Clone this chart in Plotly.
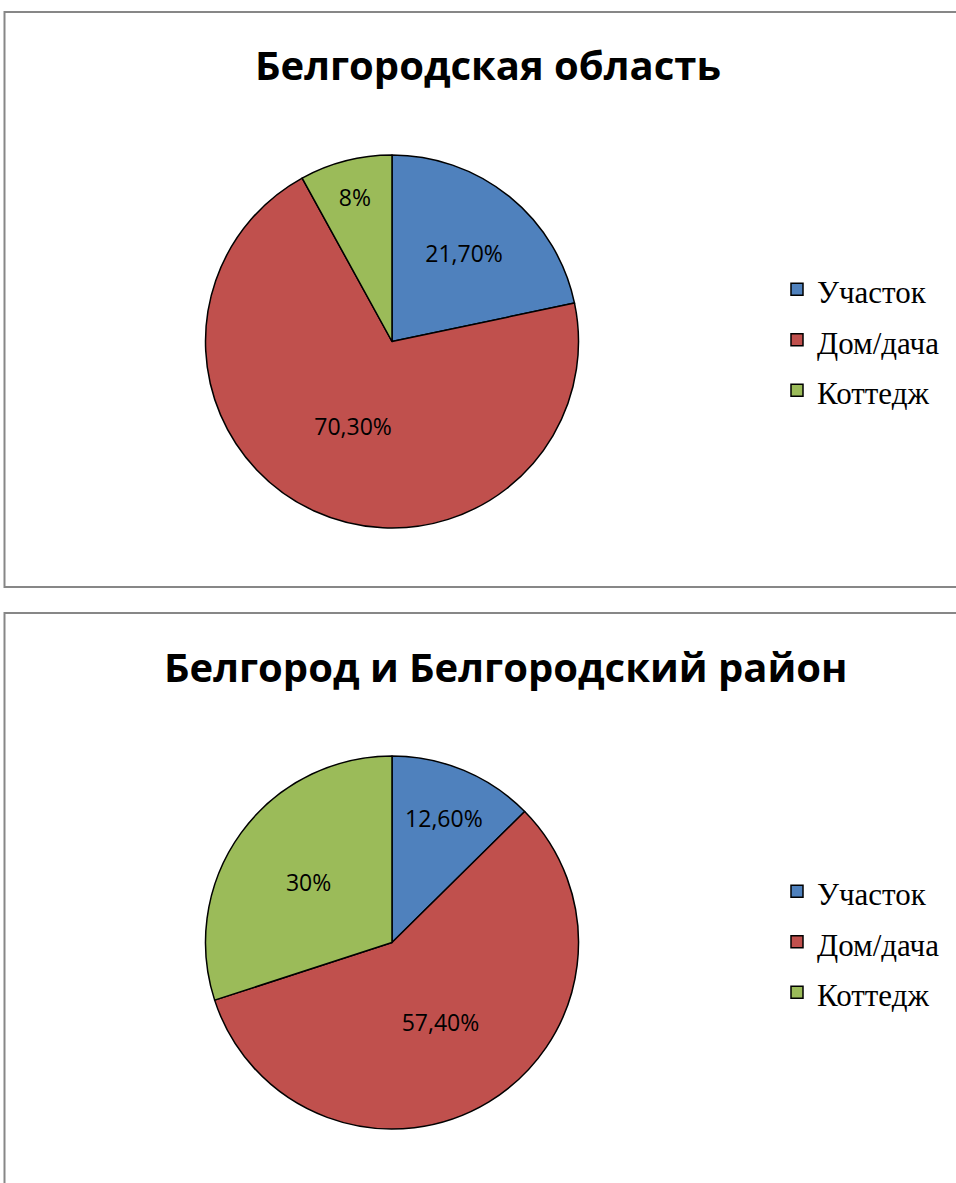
import plotly.graph_objects as go

categories = ["Участок", "Дом/дача", "Коттедж"]
oblast_values = [21.7, 70.3, 8.0]
oblast_text = ["21,70%", "70,30%", "8%"]
city_values = [12.6, 57.4, 30.0]
city_text = ["12,60%", "57,40%", "30%"]
titles = ["Белгородская область", "Белгород и Белгородский район"]

colors = ["#4F81BD", "#C0504D", "#9BBB59"]
W, H = 956, 1183

# legend font size sets row spacing, span keeps the visible text smaller
legend_labels = ["<span style='font-size:31px'>%s</span>" % c for c in categories]


def pie(values, text, ydom, legend, group):
    return go.Pie(
        labels=legend_labels, values=values, text=text,
        textinfo="text", textposition="inside", insidetextorientation="horizontal",
        sort=False, direction="clockwise", rotation=0,
        marker=dict(colors=colors, line=dict(color="black", width=1.5)),
        textfont=dict(family="Open Sans", size=23, color="black"),
        domain=dict(x=[205.5 / W, 578.5 / W], y=ydom),
        legend=legend, legendgroup=group, hoverinfo="skip"
    )


fig = go.Figure()
fig.add_trace(pie(oblast_values, oblast_text, [655 / H, 1028 / H], "legend", "g1"))
fig.add_trace(pie(city_values, city_text, [54 / H, 427 / H], "legend2", "g2"))

legend_style = dict(
    font=dict(family="Liberation Serif", size=36.5, color="black"),
    bgcolor="rgba(0,0,0,0)", xanchor="left", yanchor="middle",
    itemclick=False, itemdoubleclick=False,
)

# chart frames
fig.add_shape(type="rect", xref="paper", yref="paper",
              x0=4.5 / W, x1=1.01, y0=1 - 587 / H, y1=1 - 12 / H,
              line=dict(color="#878787", width=2))
fig.add_shape(type="rect", xref="paper", yref="paper",
              x0=4.5 / W, x1=1.01, y0=-0.01, y1=1 - 613 / H,
              line=dict(color="#878787", width=2))

fig.add_annotation(text="<b>%s</b>" % titles[0], xref="paper", yref="paper",
                   x=488 / W, y=1 - 64 / H, xanchor="center", yanchor="middle",
                   showarrow=False,
                   font=dict(family="Open Sans", size=40, color="black"))
fig.add_annotation(text="<b>%s</b>" % titles[1], xref="paper", yref="paper",
                   x=505.5 / W, y=1 - 666 / H, xanchor="center", yanchor="middle",
                   showarrow=False,
                   font=dict(family="Open Sans", size=40, color="black"))

fig.update_layout(
    width=W, height=H,
    margin=dict(l=0, r=0, t=0, b=0),
    paper_bgcolor="white",
    legend=dict(x=777 / W, y=1 - 340 / H, **legend_style),
    legend2=dict(x=777 / W, y=1 - 942 / H, **legend_style),
)

fig.write_html("out.html", config={"displayModeBar": False},
               post_script="document.body.style.margin = '0';")
